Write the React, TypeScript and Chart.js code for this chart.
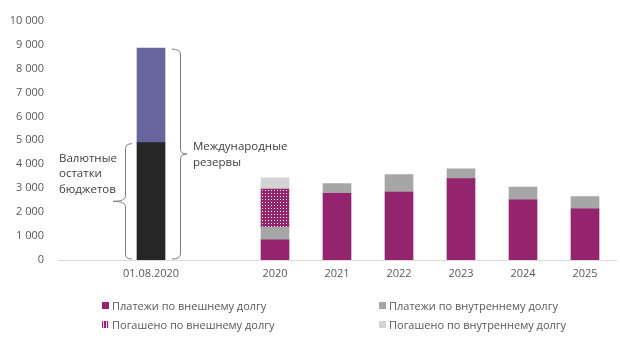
import React, { useEffect, useRef } from "react";
import { Chart, registerables } from "chart.js";

Chart.register(...registerables);

const categories = ["", "01.08.2020", "", "2020", "2021", "2022", "2023", "2024", "2025"];
const budgetFx = [null, 4900, null, null, null, null, null, null, null];
const reservesRest = [null, 3950, null, null, null, null, null, null, null];
const extPay = [null, null, null, 840, 2780, 2840, 3400, 2510, 2140];
const intPay = [null, null, null, 530, 410, 730, 410, 535, 510];
const extRepaid = [null, null, null, 1590, null, null, null, null, null];
const intRepaid = [null, null, null, 470, null, null, null, null, null];
const yTicks = [0, 1000, 2000, 3000, 4000, 5000, 6000, 7000, 8000, 9000, 10000];

const legendNames = [
  "Платежи по внешнему долгу",
  "Платежи по внутреннему долгу",
  "Погашено по внешнему долгу",
  "Погашено по внутреннему долгу",
];
const leftNote = ["Валютные", "остатки", "бюджетов"];
const rightNote = ["Международные", "резервы"];

const MAGENTA = "#95246F";
const VIOLET = "#68649E";
const BLACK = "#262626";
const GRAY = "#A6A6A6";
const LIGHT = "#D3D3D3";
const FONT = "'Open Sans', 'Noto Sans', sans-serif";

function makePattern(): CanvasPattern | string {
  const c = document.createElement("canvas");
  c.width = 3;
  c.height = 3;
  const g = c.getContext("2d");
  if (!g) return MAGENTA;
  g.fillStyle = MAGENTA;
  g.fillRect(0, 0, 3, 3);
  g.fillStyle = "#ffffff";
  g.fillRect(1, 1, 1, 1);
  const p = g.createPattern(c, "repeat");
  return p || MAGENTA;
}

const fmt = (v: number) => String(v).replace(/\B(?=(\d{3})+(?!\d))/g, " ");

const bracePlugin = {
  id: "braces",
  afterDatasetsDraw(chart: any) {
    const ctx = chart.ctx;
    const xs = chart.scales.x;
    const ys = chart.scales.y;
    const xc = xs.getPixelForValue(1);
    const y0 = ys.getPixelForValue(0);
    const yA = ys.getPixelForValue(budgetFx[1] as number);
    const yB = ys.getPixelForValue((budgetFx[1] as number) + (reservesRest[1] as number));
    ctx.save();
    ctx.strokeStyle = "#7F7F7F";
    ctx.lineWidth = 1;
    const r = 5;
    // left brace (tip left)
    {
      const xl = xc - 25.5, xe = xc - 19, xt = xc - 38;
      const top = yA + 1, bot = y0 - 1, mid = (top + bot) / 2;
      ctx.beginPath();
      ctx.moveTo(xe, top);
      ctx.quadraticCurveTo(xl, top, xl, top + r);
      ctx.lineTo(xl, mid - r);
      ctx.quadraticCurveTo(xl, mid, xt, mid);
      ctx.moveTo(xt, mid);
      ctx.quadraticCurveTo(xl, mid, xl, mid + r);
      ctx.lineTo(xl, bot - r);
      ctx.quadraticCurveTo(xl, bot, xe, bot);
      ctx.stroke();
      ctx.fillStyle = "#404040";
      ctx.font = `11.5px ${FONT}`;
      ctx.textBaseline = "middle";
      ctx.textAlign = "left";
      leftNote.forEach((t, i) => ctx.fillText(t, xc - 92, mid - 43 + i * 15.5));
    }
    // right brace (tip right)
    {
      const xl = xc + 29.5, xe = xc + 21, xt = xc + 36;
      const top = yB + 1, bot = y0 - 1, mid = (top + bot) / 2;
      ctx.beginPath();
      ctx.moveTo(xe, top);
      ctx.quadraticCurveTo(xl, top, xl, top + r);
      ctx.lineTo(xl, mid - r);
      ctx.quadraticCurveTo(xl, mid, xt, mid);
      ctx.moveTo(xt, mid);
      ctx.quadraticCurveTo(xl, mid, xl, mid + r);
      ctx.lineTo(xl, bot - r);
      ctx.quadraticCurveTo(xl, bot, xe, bot);
      ctx.stroke();
      ctx.fillStyle = "#404040";
      ctx.font = `11.5px ${FONT}`;
      ctx.textBaseline = "middle";
      ctx.textAlign = "left";
      rightNote.forEach((t, i) => ctx.fillText(t, xt + 6, mid - 7 + i * 16));
    }
    ctx.restore();
  },
};

export default function App() {
  const ref = useRef<HTMLCanvasElement>(null);
  useEffect(() => {
    document.body.style.margin = "0";
    if (!ref.current) return;
    const pattern = makePattern();
    const common = { stack: "s", barThickness: 28, borderWidth: 0 };
    const chart = new Chart(ref.current, {
      type: "bar",
      data: {
        labels: categories,
        datasets: [
          { label: "Валютные остатки бюджетов", data: budgetFx, backgroundColor: BLACK, ...common },
          { label: "Международные резервы", data: reservesRest, backgroundColor: VIOLET, ...common },
          { label: legendNames[0], data: extPay, backgroundColor: MAGENTA, ...common },
          { label: legendNames[1], data: intPay, backgroundColor: GRAY, ...common },
          { label: legendNames[2], data: extRepaid, backgroundColor: pattern as any, ...common },
          { label: legendNames[3], data: intRepaid, backgroundColor: LIGHT, ...common },
        ] as any,
      },
      options: {
        animation: false,
        responsive: false,
        maintainAspectRatio: false,
        layout: { padding: { left: 0, right: 4, top: 17, bottom: 64 } },
        plugins: { legend: { display: false }, tooltip: { enabled: false } },
        scales: {
          x: {
            stacked: true,
            grid: { display: false, drawTicks: false },
            border: { display: true, color: "#D9D9D9", width: 1 },
            ticks: { color: "#595959", font: { family: FONT, size: 11 }, padding: 7, maxRotation: 0, autoSkip: false },
            afterFit: (s: any) => { s.height = 30; },
          },
          y: {
            stacked: true,
            min: 0,
            max: 10000,
            afterBuildTicks: (s: any) => { s.ticks = yTicks.map((v) => ({ value: v })); },
            grid: { display: false, drawTicks: false },
            border: { display: false },
            ticks: { color: "#595959", font: { family: FONT, size: 11 }, padding: 14, callback: (v: any) => fmt(Number(v)) },
            afterFit: (s: any) => { s.width = 58; },
          },
        },
      },
      plugins: [bracePlugin],
    } as any);
    return () => chart.destroy();
  }, []);

  const items = [
    { name: legendNames[0], x: 102, y: 305, bg: MAGENTA },
    { name: legendNames[1], x: 379, y: 305, bg: GRAY },
    { name: legendNames[2], x: 102, y: 324, bg: `repeating-linear-gradient(90deg, ${MAGENTA} 0 1px, #f3d9ea 1px 2.5px)` },
    { name: legendNames[3], x: 379, y: 324, bg: LIGHT },
  ];

  return (
    <div style={{ position: "relative", width: 620, height: 354 }}>
      <canvas ref={ref} width={620} height={354} style={{ display: "block" }} />
      {items.map((it) => (
        <div
          key={it.name}
          style={{
            position: "absolute",
            left: it.x,
            top: it.y - 8,
            height: 16,
            display: "flex",
            alignItems: "center",
            fontFamily: FONT,
            fontSize: 11,
            color: "#595959",
            whiteSpace: "nowrap",
          }}
        >
          <span style={{ width: 7, height: 7, background: it.bg, marginRight: 3, display: "inline-block" }} />
          {it.name}
        </div>
      ))}
    </div>
  );
}
